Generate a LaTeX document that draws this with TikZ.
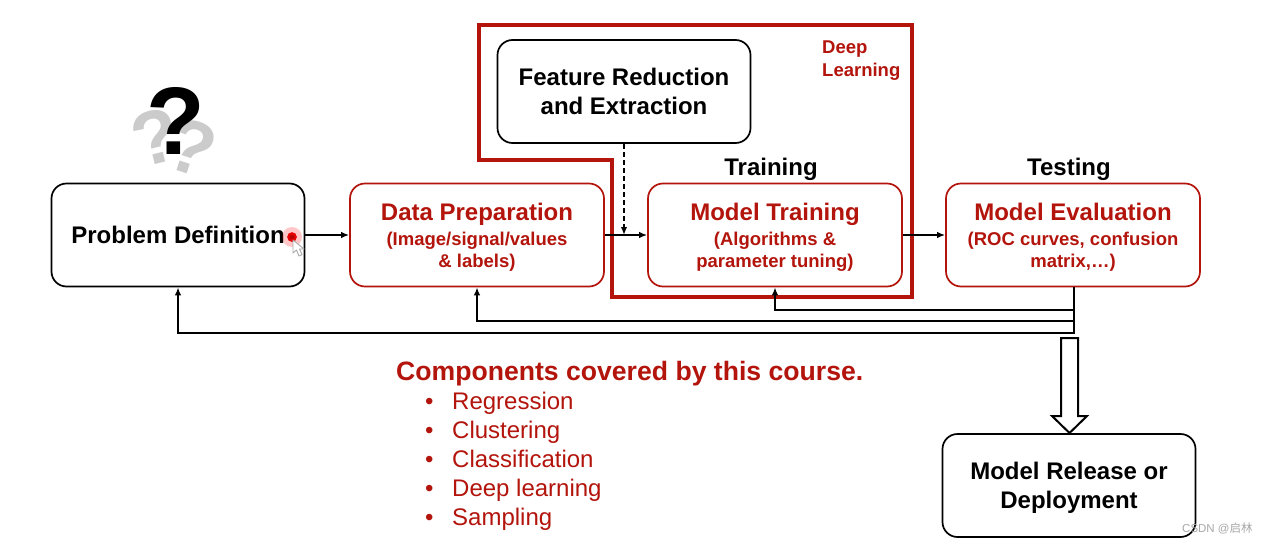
\documentclass[tikz,border=0pt]{standalone}
\usepackage{fontspec}
\usepackage{xcolor}
\setmainfont{Liberation Sans}
\newfontfamily\cjkfont{Noto Sans CJK SC}
\usetikzlibrary{arrows.meta,positioning}
\definecolor{darkred}{HTML}{B3140C}
\definecolor{lightgray}{HTML}{CBCBCB}
\definecolor{markgray}{HTML}{A8A8A8}
\newcommand{\headfont}{\fontsize{24}{28.5}\selectfont\bfseries}
\newcommand{\subfont}{\fontsize{18.5}{22}\selectfont\bfseries}

\begin{document}
\begin{tikzpicture}[
  x=1pt,
  y=-1pt,
  plainbox/.style={draw=black, line width=1.7pt, rounded corners=15pt, minimum width=253pt, minimum height=103pt, align=center, inner sep=0pt, text depth=0pt, font=\headfont},
  redbox/.style={draw=darkred, line width=1.7pt, rounded corners=15pt, minimum width=254pt, minimum height=103pt, align=center, inner sep=0pt, text depth=0pt, text=darkred, font=\subfont},
  link/.style={-{Latex[length=8pt,width=6.5pt]}, line width=1.8pt},
  heading/.style={font=\headfont, inner sep=0pt, text depth=0pt},
  item/.style={anchor=base west, inner sep=0pt, text=darkred, font=\fontsize{24}{28}\selectfont}
]
  \useasboundingbox (0,0) rectangle (1265,543);
  \fill[white] (0,0) rectangle (1265,543);

  % deep learning frame
  \draw[darkred, line width=3.2pt, line join=miter] (479,25) -- (912,25) -- (912,297)
    -- (612,297) -- (612,160) -- (479,160) -- cycle;
  \node[anchor=north west, align=left, inner sep=0pt, text=darkred, font=\fontsize{18.5}{23}\selectfont\bfseries] (deep) at (822,41)
    {Deep\\Learning};

  \node[plainbox] (feature) at (624,91.5) {Feature Reduction\\and Extraction};
  \node[plainbox] (problem) at (178,235) {Problem Definition};
  \node[redbox] (data) at (477,235)
    {{\headfont Data Preparation}\\[3pt](Image/signal/values\\\& labels)};
  \node[redbox] (model) at (775,235)
    {{\headfont Model Training}\\[3pt](Algorithms \&\\parameter tuning)};
  \node[redbox] (eval) at (1073,235)
    {{\headfont Model Evaluation}\\[3pt](ROC curves, confusion\\matrix,\ldots)};
  \node[plainbox] (release) at (1069,485.5) {Model Release or\\Deployment};

  \node[heading] (training) at (771,167) {Training};
  \node[heading] (testing) at (1069,167) {Testing};

  % forward flow
  \draw[link] (problem.east) -- (data.west);
  \draw[link] (data.east) -- (model.west);
  \draw[link] (model.east) -- (eval.west);
  \coordinate (join) at (feature.south |- data.east);
  \draw[link, dash pattern=on 5pt off 3pt] (feature.south) -- (join);

  % feedback
  \coordinate (evalout) at (1074,287);
  \draw[link] (evalout) |- (775,310) -- (model.south);
  \draw[link] (evalout) |- (477,321) -- (data.south);
  \draw[link] (evalout) |- (178,333) -- (problem.south);

  % release arrow
  \draw[line width=2pt, fill=white, line join=miter] (1061,338) -- (1078,338) -- (1078,416)
    -- (1087,416) -- (1069.5,433) -- (1052,416) -- (1061,416) -- cycle;

  % question marks
  \node[inner sep=0pt, text=lightgray, rotate=14, font=\fontsize{76}{76}\selectfont\bfseries] (markleft) at (156,137) {?};
  \node[inner sep=0pt, text=lightgray, rotate=-18, font=\fontsize{76}{76}\selectfont\bfseries] (markright) at (192,147) {?};
  \node[inner sep=0pt, text=black, font=\fontsize{96}{96}\selectfont\bfseries] (markblack) at (176,121) {?};

  % pointer
  \fill[red, opacity=0.22] (292,237) circle (10);
  \draw[red!90!black, fill=red!70!black, line width=2.5pt] (292,237) circle (3.5);
  \draw[markgray, fill=white, line width=0.9pt, line join=round] (293,240) -- (293,253) -- (296.5,250) -- (299,256)
    -- (302,254.5) -- (299.5,249) -- (304,249) -- cycle;

  % course list
  \node[anchor=base west, inner sep=0pt, text=darkred, font=\fontsize{26.6}{30}\selectfont\bfseries] (course) at (396,380)
    {Components covered by this course.};
  \foreach \y/\label in {409/Regression,438/Clustering,467/Classification,496/Deep learning,525/Sampling}
  {
    \node[item] (bullet\y) at (425,\y) {\textbullet};
    \node[item] (label\y) at (452,\y) {\label};
  }

  \node[anchor=west, inner sep=0pt, text=markgray, font=\fontsize{11.5}{13}\selectfont] (mark) at (1182,528) {CSDN @{\cjkfont 启林}};
\end{tikzpicture}
\end{document}
